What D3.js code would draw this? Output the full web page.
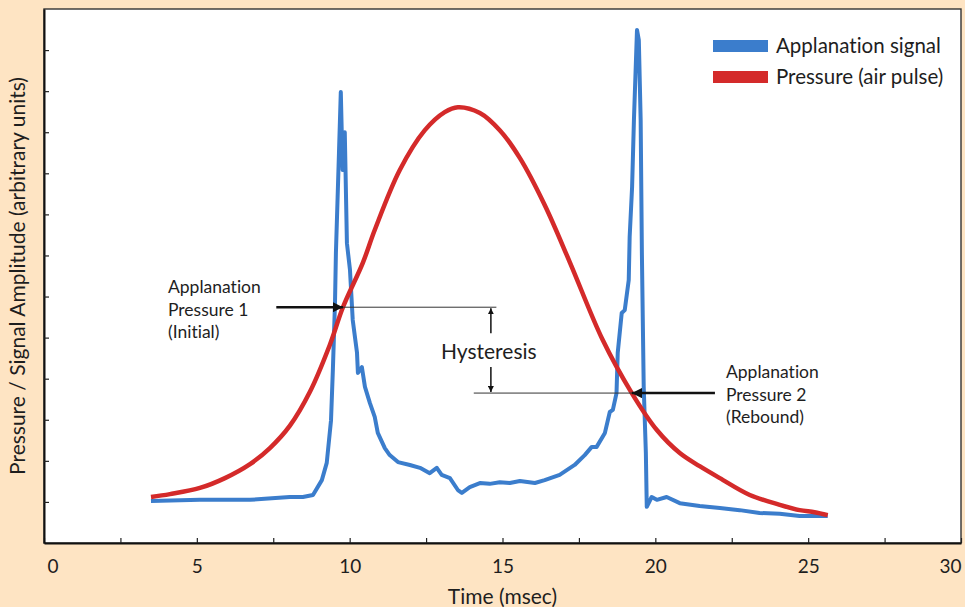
<!DOCTYPE html>
<html>
<head>
<meta charset="utf-8">
<script src="https://cdn.jsdelivr.net/npm/d3@7"></script>
<style>
  body { margin: 0; background: #fee4c3; }
  svg { display: block; }
  text { font-family: Lato, "Open Sans", sans-serif; fill: #1e1e1e; font-variant-ligatures: none; }
</style>
</head>
<body>
<svg width="965" height="607"></svg>
<script>
// time (msec) / amplitude (arbitrary)
var pressure = [
  [3.50,1.12],[4.12,1.19],[5.10,1.34],[5.92,1.58],[6.74,1.92],[7.39,2.31],[8.04,2.85],
  [8.70,3.68],[9.35,4.82],[9.78,5.74],[10.43,6.82],[10.82,7.62],[11.64,9.08],
  [12.46,10.05],[13.11,10.49],[13.54,10.61],[14.26,10.47],[14.91,10.05],[15.57,9.37],
  [16.38,8.23],[17.20,6.84],[18.28,4.94],[19.23,3.65],[20.05,2.75],[20.80,2.19],
  [21.45,1.87],[22.11,1.58],[23.09,1.17],[24.07,0.93],[24.72,0.80],[25.21,0.75],[25.64,0.68]
];
var signal = [
  [3.50,1.02],[5.10,1.05],[6.74,1.05],[8.04,1.12],[8.47,1.12],[8.80,1.17],[9.09,1.53],
  [9.25,1.95],[9.39,2.99],[9.45,4.21],[9.52,5.84],[9.55,7.06],[9.65,9.49],[9.71,10.98],
  [9.77,9.08],[9.84,10.00],[9.91,7.30],[10.01,6.65],[10.10,5.43],[10.24,4.63],[10.27,4.14],
  [10.40,4.28],[10.50,3.80],[10.66,3.41],[10.82,3.07],[10.92,2.68],[11.15,2.31],[11.31,2.14],
  [11.58,1.97],[11.97,1.90],[12.30,1.83],[12.62,1.70],[12.85,1.83],[13.01,1.66],[13.28,1.58],
  [13.54,1.29],[13.67,1.22],[13.93,1.36],[14.26,1.46],[14.58,1.44],[14.91,1.48],[15.24,1.46],
  [15.57,1.51],[16.06,1.46],[16.38,1.53],[16.87,1.66],[17.36,1.90],[17.69,2.14],[17.92,2.34],
  [18.08,2.34],[18.35,2.68],[18.51,3.19],[18.61,3.24],[18.73,3.65],[18.77,4.63],[18.90,5.60],
  [19.00,5.67],[19.13,6.40],[19.16,7.45],[19.24,8.67],[19.30,10.30],[19.40,12.49],[19.46,12.24],
  [19.52,10.30],[19.56,7.06],[19.62,3.80],[19.69,2.19],[19.72,0.88],[19.88,1.12],[20.05,1.05],
  [20.37,1.12],[20.80,0.97],[21.45,0.90],[22.11,0.85],[22.76,0.80],[23.41,0.73],[24.07,0.71],
  [24.72,0.66],[25.64,0.66]
];
var xTicks = [0,2.5,5,7.5,10,12.5,15,17.5,20,22.5,25,27.5,30];
var yTicks = [1,2,3,4,5,6,7,8,9,10,11,12];
var legendNames = ["Applanation signal", "Pressure (air pulse)"];
var colors = ["#3b7dcc", "#d42a2a"];
// annotation levels: applanation 1 and 2 (time, amplitude)
var ap1 = [9.78, 5.74];
var ap2 = [19.23, 3.65];

var width = 965, height = 607;
var margin = ({top: 9, right: 4, bottom: 64, left: 44});

var svg = d3.select("svg");

var x = d3.scaleLinear()
  .domain([0, 30])
  .range([margin.left, width - margin.right]);

var y = d3.scaleLinear()
  .domain([0, 13])
  .range([height - margin.bottom, margin.top]);

svg.append("rect")
  .attr("x", margin.left).attr("y", margin.top)
  .attr("width", width - margin.right - margin.left)
  .attr("height", height - margin.bottom - margin.top)
  .attr("fill", "#fff").attr("stroke", "#333").attr("stroke-width", 1.4);

// x axis, ticks point inward
var gx = svg.append("g")
  .attr("transform", "translate(0," + (height - margin.bottom) + ")")
  .call(d3.axisBottom(x).tickValues(xTicks).tickSize(-5).tickSizeOuter(0).tickPadding(17)
    .tickFormat(d => d % 5 == 0 ? d : ""));
gx.select(".domain").attr("stroke", "#111").attr("stroke-width", 2);
gx.selectAll(".tick line").attr("stroke", "#222").attr("stroke-width", 1.2);
gx.selectAll(".tick text").style("font-size", "19px").style("font-family", "Lato, sans-serif")
  .attr("fill", "#1e1e1e")
  .attr("text-anchor", d => d == 0 ? "start" : d == 30 ? "end" : "middle")
  .attr("dx", d => d == 0 ? 3 : 0);

var gy = svg.append("g")
  .attr("transform", "translate(" + margin.left + ",0)")
  .call(d3.axisLeft(y).tickValues(yTicks).tickSize(-5).tickSizeOuter(0).tickFormat(""));
gy.select(".domain").attr("stroke", "#111").attr("stroke-width", 2);
gy.selectAll(".tick line").attr("stroke", "#222").attr("stroke-width", 1.2);

// axis titles
svg.append("text").attr("x", (margin.left + width - margin.right) / 2).attr("y", 604)
  .attr("text-anchor", "middle").style("font-size", "21px").text("Time (msec)");
svg.append("text")
  .attr("transform", "translate(25," + ((margin.top + height - margin.bottom) / 2) + ") rotate(-90)")
  .attr("text-anchor", "middle").style("font-size", "21px")
  .text("Pressure / Signal Amplitude (arbitrary units)");

// curves
var line = d3.line().x(d => x(d[0])).y(d => y(d[1]));
svg.append("path").datum(signal)
  .attr("fill", "none").attr("stroke", colors[0]).attr("stroke-width", 4)
  .attr("stroke-linejoin", "round").attr("d", line);
svg.append("path").datum(pressure)
  .attr("fill", "none").attr("stroke", colors[1]).attr("stroke-width", 4.5)
  .attr("stroke-linejoin", "round").attr("d", line.curve(d3.curveCatmullRom));

// legend
var lg = svg.append("g").attr("transform", "translate(713,40)");
legendNames.forEach(function(n, i) {
  lg.append("rect").attr("x", 0).attr("y", i * 31).attr("width", 55).attr("height", 12).attr("fill", colors[i]);
  lg.append("text").attr("x", 63).attr("y", i * 31 + 13).style("font-size", "20.5px").text(n);
});

// annotations
var defs = svg.append("defs");
defs.append("marker").attr("id", "head").attr("viewBox", "0 0 10 10")
  .attr("refX", 10).attr("refY", 5).attr("markerWidth", 4).attr("markerHeight", 4)
  .attr("orient", "auto-start-reverse")
  .append("path").attr("d", "M0,0L10,5L0,10z").attr("fill", "#111");
defs.append("marker").attr("id", "headSmall").attr("viewBox", "0 0 10 10")
  .attr("refX", 10).attr("refY", 5).attr("markerWidth", 6).attr("markerHeight", 6)
  .attr("markerUnits", "userSpaceOnUse").attr("orient", "auto")
  .append("path").attr("d", "M0,0L10,5L0,10z").attr("fill", "#111");

var ann = svg.append("g");
// level lines
ann.append("line").attr("x1", x(ap1[0])).attr("x2", x(14.8))
  .attr("y1", y(ap1[1])).attr("y2", y(ap1[1])).attr("stroke", "#333").attr("stroke-width", 1);
ann.append("line").attr("x1", x(14.06)).attr("x2", x(ap2[0]))
  .attr("y1", y(ap2[1])).attr("y2", y(ap2[1])).attr("stroke", "#333").attr("stroke-width", 1);
// thick arrows
ann.append("line").attr("x1", x(7.6)).attr("x2", x(ap1[0]))
  .attr("y1", y(ap1[1])).attr("y2", y(ap1[1])).attr("stroke", "#111").attr("stroke-width", 2.6)
  .attr("marker-end", "url(#head)");
ann.append("line").attr("x1", x(21.95)).attr("x2", x(ap2[0]))
  .attr("y1", y(ap2[1])).attr("y2", y(ap2[1])).attr("stroke", "#111").attr("stroke-width", 2.6)
  .attr("marker-end", "url(#head)");
// hysteresis arrows
ann.append("line").attr("x1", x(14.62)).attr("x2", x(14.62))
  .attr("y1", y(ap1[1]) + 26).attr("y2", y(ap1[1]) + 1).attr("stroke", "#111").attr("stroke-width", 1.5)
  .attr("marker-end", "url(#headSmall)");
ann.append("line").attr("x1", x(14.62)).attr("x2", x(14.62))
  .attr("y1", y(ap2[1]) - 26).attr("y2", y(ap2[1]) - 1).attr("stroke", "#111").attr("stroke-width", 1.5)
  .attr("marker-end", "url(#headSmall)");

ann.append("text").attr("x", 441).attr("y", 359).style("font-size", "21px").text("Hysteresis");

var lab1 = ["Applanation", "Pressure 1", "(Initial)"];
var lab2 = ["Applanation", "Pressure 2", "(Rebound)"];
lab1.forEach(function(t, i) {
  ann.append("text").attr("x", 168).attr("y", 293 + i * 22.5).style("font-size", "17.5px").text(t);
});
lab2.forEach(function(t, i) {
  ann.append("text").attr("x", 726).attr("y", 378 + i * 22.5).style("font-size", "17.5px").text(t);
});
</script>
</body>
</html>
